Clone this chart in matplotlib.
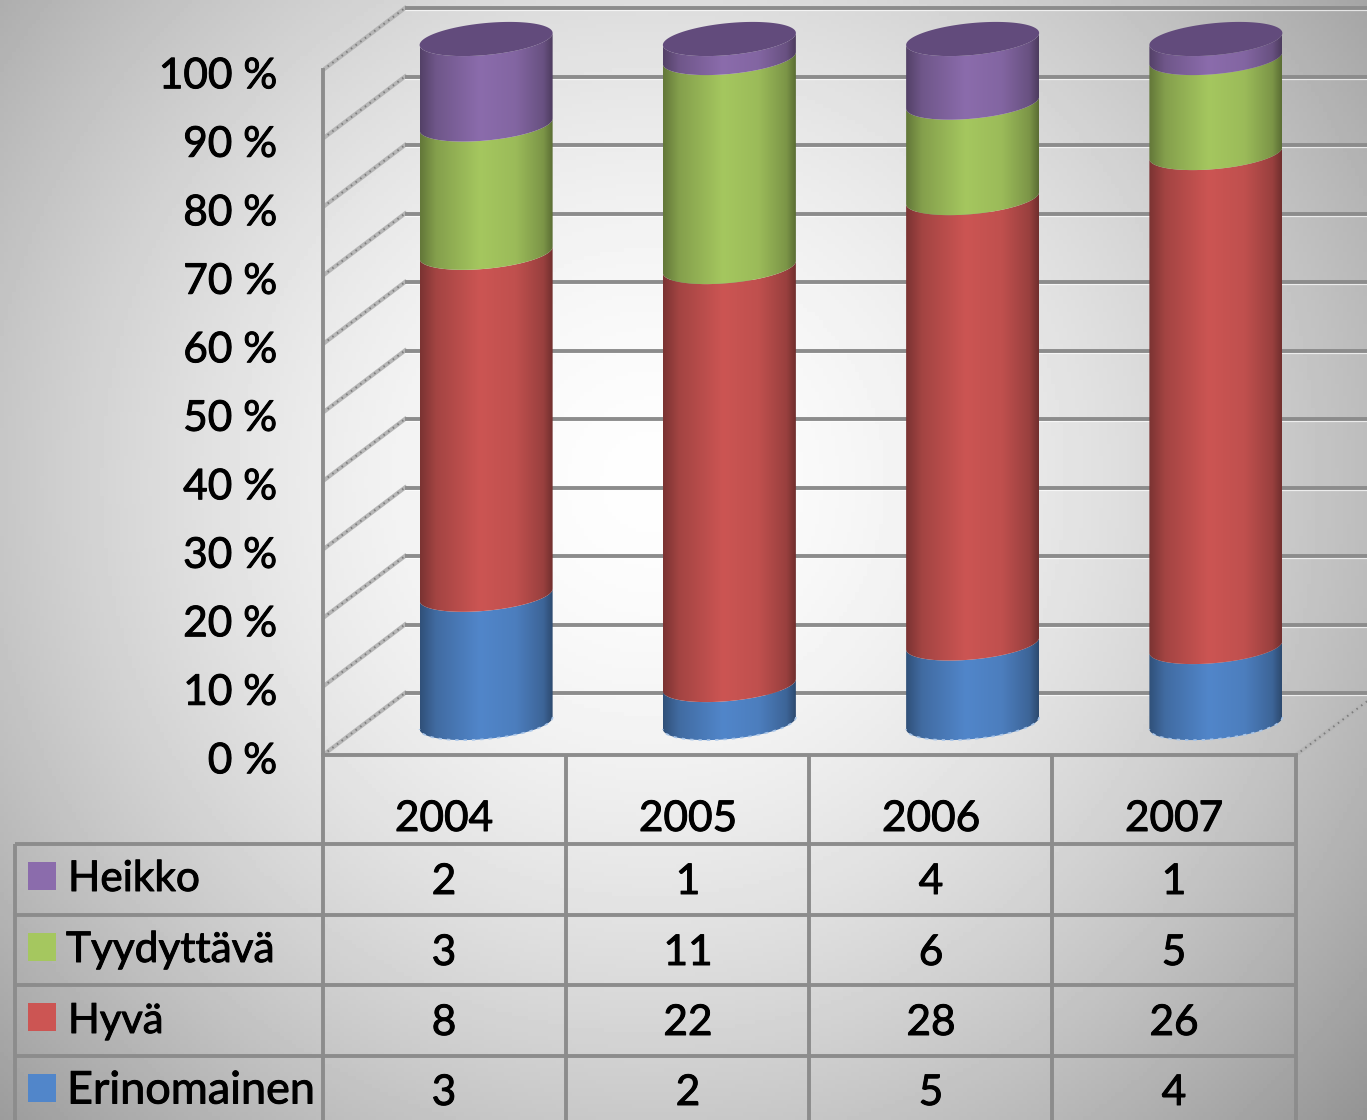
import numpy as np
import matplotlib
matplotlib.use('Agg')
from matplotlib import pyplot as plt
from matplotlib import patheffects
from matplotlib.patches import Polygon, Rectangle
from matplotlib.transforms import ScaledTranslation

plt.rcParams['font.family'] = ['Lato', 'DejaVu Sans']

years = ['2004', '2005', '2006', '2007']
# from the bottom of the stack upwards
series = ['Erinomainen', 'Hyvä', 'Tyydyttävä', 'Heikko']
erinomainen = [3, 2, 5, 4]
hyva = [8, 22, 28, 26]
tyydyttava = [3, 11, 6, 5]
heikko = [2, 1, 4, 1]
colors = ['#5186CA', '#CC5553', '#A5C75F', '#8B6CAC']
cap_color = '#624B7C'
pct_labels = ['0 %', '10 %', '20 %', '30 %', '40 %', '50 %', '60 %', '70 %', '80 %', '90 %', '100 %']

W, H = 1367, 1120
PX_X = 243.25  # pixels per category
PX_Y = 6.85    # pixels per percent
GRID = '#8c8c8c'
heavy = [patheffects.withStroke(linewidth=0.7, foreground='black')]

fig = plt.figure(figsize=(W / 100, H / 100), dpi=100)

# background and table, in pixels
bg = fig.add_axes([0, 0, 1, 1])
bg.set_xlim(0, W)
bg.set_ylim(H, 0)
bg.axis('off')
yy, xx = np.mgrid[0:H:4, 0:W:4]
r = np.sqrt(((xx - 650) / 1000.0) ** 2 + ((yy - 480) / 1000.0) ** 2)
shade = np.clip(0.995 - 0.45 * r ** 1.7, 0, 1)
bg.imshow(shade, cmap='gray', vmin=0, vmax=1, extent=[0, W, H, 0], aspect='auto', zorder=0)
bg.set_xlim(0, W)
bg.set_ylim(H, 0)

row_lines = [844, 915, 985, 1056]
col_lines = [323, 566, 809, 1052, 1296]
for y in row_lines:
    bg.plot([15, 1296], [y, y], color=GRID, lw=2.8, solid_capstyle='butt', zorder=2)
bg.plot([15, 15], [844, H], color=GRID, lw=2.8, solid_capstyle='butt', zorder=2)
for x in col_lines:
    bg.plot([x, x], [755, H], color=GRID, lw=2.8, solid_capstyle='butt', zorder=2)

col_centers = [444, 688, 931, 1174]
for x, year in zip(col_centers, years):
    bg.text(x, 819, year, ha='center', va='center', fontsize=30.5, color='black', zorder=3, path_effects=heavy)

row_y = [1093, 1023, 953, 882]
swatch_y = [1074, 1003, 933, 862]
label_y = [1091, 1021, 950, 879]
label_x = [67, 68, 66, 68]
label_size = [32.4, 30, 30.5, 30.5]
table = [erinomainen, hyva, tyydyttava, heikko]
for k, name in enumerate(series):
    bg.add_patch(Rectangle((28, swatch_y[k]), 28, 28, fc=colors[k], ec='none', zorder=3))
    bg.text(label_x[k], label_y[k], name, ha='left', va='center', fontsize=label_size[k], color='black',
            zorder=3, path_effects=heavy)
    for x, val in zip(col_centers, table[k]):
        bg.text(x, row_y[k], str(val), ha='center', va='center', fontsize=30.5, color='black', zorder=3,
                path_effects=heavy)

# chart, in percent
ax = fig.add_axes([323 / W, 1 - 755 / H, (W - 323) / W, 755 / H])
ax.patch.set_alpha(0)
xmax = (W - 323) / PX_X
ymax = 755 / PX_Y
dx = 82 / PX_X
dy = 62 / PX_Y

ticks = np.arange(0, 101, 10)


def depth_line(x0, x1, y0, y1):
    ax.plot([x0, x1], [y0, y1], color='#b6b6b6', lw=3.0, zorder=1)
    ax.plot([x0, x1], [y0, y1], color='#7c7c7c', lw=1.4, ls=(0, (0.8, 2.2)), zorder=1.2)


for t in ticks:
    ax.plot([dx, xmax], [t + dy - 0.35, t + dy - 0.35], color='white', lw=1.6, alpha=0.7, zorder=1)
    ax.plot([dx, xmax], [t + dy, t + dy], color=GRID, lw=2.8, solid_capstyle='butt', zorder=1.5)
    depth_line(0, dx, t, t + dy)
depth_line(4, xmax, 0, (xmax - 4) / dx * dy)

half_w = 66.5 / PX_X
center_off = 0.5 + 41.5 / PX_X
base_off = 32 / PX_Y
height = 684 / PX_Y / 100.0
tilt = 6 / PX_Y
rise = 16 / PX_Y
t_arc = np.linspace(0, np.pi, 80)
profile = np.interp(np.linspace(0, 1, 256), [0, 0.12, 0.45, 0.72, 0.93, 1], [0.6, 0.8, 1, 0.94, 0.75, 0.55])


def arc(cx, y):
    # front half of the tilted ellipse, right to left
    return cx + half_w * np.cos(t_arc), y + tilt * np.cos(t_arc) - rise * np.sin(t_arc)


def segment(cx, y0, y1, color):
    x1, a1 = arc(cx, y1)
    x0, a0 = arc(cx, y0)
    verts = np.column_stack([np.r_[x1, x0[::-1]], np.r_[a1, a0[::-1]]])
    clip = Polygon(verts, closed=True, transform=ax.transData)
    rgb = np.array(matplotlib.colors.to_rgb(color))
    img = (profile[:, None] * rgb)[None, :, :]
    im = ax.imshow(img, extent=[cx - half_w, cx + half_w, y0 - 4, y1 + 2], aspect='auto',
                   interpolation='bilinear', zorder=3)
    im.set_clip_path(clip)


for i in range(len(years)):
    cx = i + center_off
    vals = np.array([s[i] for s in table], dtype=float)
    tops = np.cumsum(vals) / vals.sum() * 100
    bottoms = np.r_[0, tops[:-1]]
    for k in range(len(series)):
        segment(cx, base_off + bottoms[k] * height, base_off + tops[k] * height, colors[k])
    # top cap
    top_y = base_off + 100 * height
    t = np.linspace(0, 2 * np.pi, 160)
    ax.fill(cx + half_w * np.cos(t), top_y + tilt * np.cos(t) - rise * np.sin(t),
            color=cap_color, lw=0, zorder=4)
    # pale speckled rim at the foot
    xb, yb = arc(cx, base_off)
    ax.plot(xb, yb, color='#a9c6ea', lw=1.2, ls=(0, (2, 3)), zorder=4)

ax.set_xlim(0, xmax)
ax.set_ylim(0, ymax)
ax.set_xticks([])
ax.set_yticks(ticks)
ax.set_yticklabels(pct_labels, fontsize=30.5, color='black', path_effects=heavy)
ax.tick_params(axis='y', length=0, pad=33)
for lab in ax.get_yticklabels():
    lab.set_transform(lab.get_transform() + ScaledTranslation(0, -2 / 72, fig.dpi_scale_trans))
for side in ['top', 'right']:
    ax.spines[side].set_visible(False)
ax.spines['left'].set_bounds(0, 100)
ax.spines['left'].set_color(GRID)
ax.spines['left'].set_linewidth(2.8)
ax.spines['bottom'].set_bounds(0, 4)
ax.spines['bottom'].set_color(GRID)
ax.spines['bottom'].set_linewidth(2.8)

fig.savefig('out.png', dpi=100)
